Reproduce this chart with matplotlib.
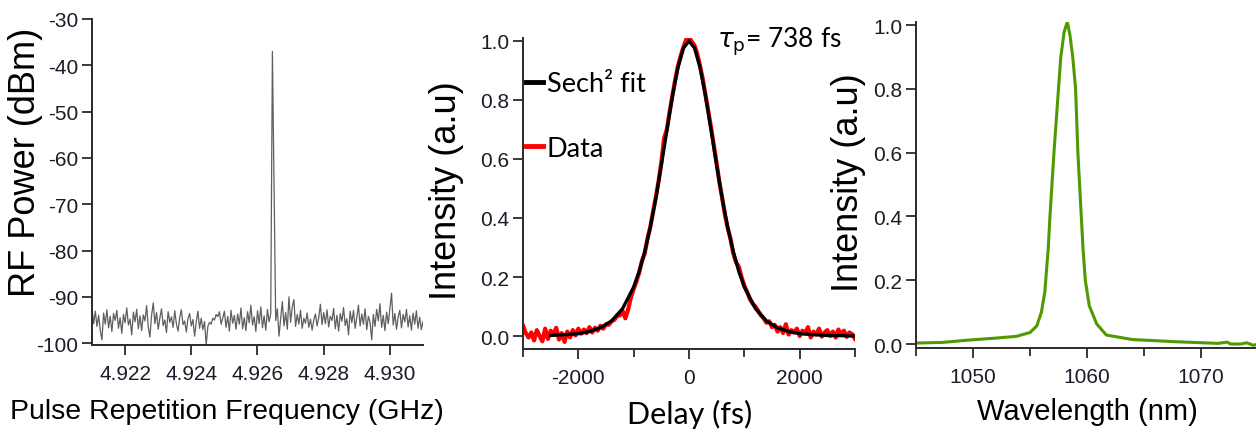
import numpy as np
import matplotlib
matplotlib.use("Agg")
import matplotlib.pyplot as plt

plt.rcParams["axes.unicode_minus"] = False

SANS = "Liberation Sans"
CAL = "Lato"

# ---- data: RF spectrum ----
rf_start, rf_stop = 4.9210, 4.9310
rf_power = [
    -92.5, -95.8, -93.1, -96.4, -94.0, -97.2, -99.3, -93.5, -95.9, -92.8,
    -96.7, -94.2, -97.5, -93.6, -95.1, -92.9, -96.8, -94.5, -97.9, -93.8,
    -95.6, -92.4, -96.1, -94.8, -98.2, -93.3, -95.4, -92.7, -96.9, -94.1,
    -97.3, -93.9, -95.2, -91.9, -96.5, -98.7, -94.0, -91.3, -95.8, -93.4,
    -97.0, -94.6, -92.6, -96.2, -95.0, -97.7, -93.2, -95.5, -94.3, -96.6,
    -93.0, -95.9, -97.4, -94.4, -92.8, -96.0, -95.2, -97.6, -94.7, -93.6,
    -96.3, -94.9, -98.5, -95.4, -93.1, -96.8, -94.6, -97.1, -95.3, -100.4,
    -96.4, -95.5, -95.9, -94.6, -95.0, -93.8, -94.3, -93.2, -95.9, -94.6,
    -93.1, -96.6, -94.2, -97.4, -92.9, -95.7, -94.0, -97.0, -93.7, -95.9,
    -92.4, -96.9, -94.5, -97.3, -93.2, -95.6, -91.8, -96.1, -94.3, -97.5,
    -93.0, -95.8, -92.2, -96.7, -94.1, -97.2, -92.7, -95.4, -93.6, -37.0,
    -66.0, -95.1, -92.6, -98.5, -94.7, -91.0, -96.3, -93.4, -97.0, -90.0,
    -95.5, -92.2, -90.6, -96.4, -93.8, -95.9, -92.9, -96.8, -94.6, -95.7,
    -93.5, -96.6, -94.8, -97.2, -95.0, -93.7, -96.3, -94.5, -91.6, -96.0,
    -93.4, -95.8, -92.8, -96.5, -94.2, -95.1, -92.5, -96.9, -94.0, -97.4,
    -93.6, -95.3, -92.3, -96.2, -94.7, -98.2, -93.1, -95.6, -92.9, -96.8,
    -94.4, -91.8, -96.3, -93.7, -95.9, -92.6, -97.1, -94.2, -95.5, -99.3,
    -93.8, -96.4, -92.7, -95.2, -91.5, -96.6, -94.0, -97.3, -93.3, -95.8,
    -92.4, -89.2, -96.1, -93.6, -97.0, -94.3, -92.9, -96.7, -93.8, -95.4,
    -92.7, -96.5, -94.1, -97.2, -93.5, -95.9, -93.0, -96.8, -94.4, -97.1, -95.3,
]
rf_freq = np.linspace(rf_start, rf_stop, len(rf_power))
rf_ticks = [4.922, 4.924, 4.926, 4.928, 4.930]

# ---- data: autocorrelation ----
delay_step = 50
ac_data = [
    0.035, 0.010, -0.005, 0.012, -0.015, 0.020, 0.000, -0.018, 0.025, -0.010,
    0.018, 0.005, 0.028, -0.012, 0.010, -0.020, 0.015, -0.005, 0.020, 0.002,
    0.025, 0.008, 0.022, 0.010, 0.030, 0.012, 0.028, 0.018, 0.035, 0.025,
    0.040, 0.038, 0.050, 0.055, 0.068, 0.070, 0.085, 0.060, 0.090, 0.130,
    0.160, 0.185, 0.215, 0.255, 0.280, 0.330, 0.370, 0.420, 0.470, 0.525,
    0.590, 0.670, 0.700, 0.760, 0.815, 0.868, 0.915, 0.950, 0.980, 1.005,
    1.012, 0.998, 0.985, 0.955, 0.915, 0.870, 0.815, 0.760, 0.705, 0.645,
    0.585, 0.520, 0.468, 0.410, 0.365, 0.330, 0.280, 0.250, 0.235, 0.200,
    0.170, 0.150, 0.125, 0.110, 0.100, 0.085, 0.070, 0.060, 0.045, 0.050,
    0.030, 0.038, 0.015, 0.030, 0.010, 0.040, 0.005, 0.020, 0.012, 0.025,
    0.000, 0.018, 0.010, 0.030, -0.005, 0.015, 0.005, 0.025, -0.002, 0.012,
    0.020, 0.000, 0.015, -0.005, 0.022, 0.005, 0.018, -0.003, 0.012, 0.006,
    -0.010,
]
ac_delay = np.arange(len(ac_data)) * delay_step - 3000

fit_delay = [-2500, -2200, -2000, -1800, -1600, -1400, -1200, -1000, -900, -800,
             -700, -600, -500, -400, -300, -200, -100, 0, 100, 200, 300, 400,
             500, 600, 700, 800, 900, 1000, 1200, 1400, 1600, 1800, 2000,
             2200, 2500, 2800, 3000]
fit_int = [0.002, 0.005, 0.008, 0.015, 0.028, 0.051, 0.093, 0.166, 0.219, 0.286,
           0.368, 0.466, 0.578, 0.697, 0.812, 0.910, 0.976, 1.000, 0.976, 0.910,
           0.812, 0.697, 0.578, 0.466, 0.368, 0.286, 0.219, 0.166, 0.093, 0.051,
           0.028, 0.015, 0.008, 0.005, 0.002, 0.001, 0.000]
pulse_width = 738

# ---- data: optical spectrum ----
wavelength = [1045.0, 1047.3, 1049.5, 1051.8, 1053.8, 1055.0, 1055.6, 1056.0,
              1056.3, 1056.6, 1056.75, 1057.1, 1057.5, 1057.7, 1058.0, 1058.27,
              1058.5, 1058.75, 1059.0, 1059.2, 1059.5, 1059.65, 1059.85, 1060.2,
              1060.85, 1061.7, 1064.0, 1067.9, 1071.5, 1072.3, 1072.6, 1073.5,
              1074.0, 1074.6, 1075.0]
spectrum = [0.003, 0.005, 0.012, 0.018, 0.024, 0.036, 0.057, 0.100,
            0.163, 0.300, 0.400, 0.600, 0.800, 0.900, 0.980, 1.010,
            0.970, 0.900, 0.800, 0.600, 0.400, 0.300, 0.200, 0.120,
            0.063, 0.028, 0.014, 0.007, 0.002, 0.006, 0.000, 0.000,
            0.004, -0.004, 0.000]

W, H = 1256, 435
fig = plt.figure(figsize=(W / 100, H / 100), dpi=100)
TICKC = "#1c1c28"
SPINE = "#2a2a2a"


def box(l, r, t, b):
    return [l / W, 1 - b / H, (r - l) / W, (b - t) / H]


def style(ax):
    for s in ["top", "right"]:
        ax.spines[s].set_visible(False)
    for s in ["left", "bottom"]:
        ax.spines[s].set_linewidth(1.4)
        ax.spines[s].set_color(SPINE)
    ax.tick_params(which="major", direction="out", length=7, width=1.3,
                   color=SPINE, labelsize=15, labelcolor=TICKC)
    ax.tick_params(which="minor", direction="out", length=6, width=1.3, color=SPINE)
    ax.tick_params(axis="x", which="major", pad=7)
    ax.tick_params(axis="y", which="major", pad=3)
    for lab in ax.get_xticklabels() + ax.get_yticklabels():
        lab.set_fontfamily(SANS)


# panel 1: RF spectrum
ax1 = fig.add_axes(box(92, 423, 20, 346))
ax1.plot(rf_freq, rf_power, color="#5f5f5f", lw=0.9)
ax1.set_xlim(rf_start, rf_stop)
ax1.set_ylim(-100.4, -30)
ax1.set_xticks(rf_ticks)
ax1.set_xticklabels([f"{v:.3f}" for v in rf_ticks])
ax1.set_yticks(np.arange(-100, -29, 10))
style(ax1)

# panel 2: autocorrelation
ax2 = fig.add_axes(box(523, 855, 39, 350))
ax2.plot(ac_delay, ac_data, color="#ff0000", lw=3.0, label="Data")
ax2.plot(fit_delay, fit_int, color="black", lw=2.4, label="Sech\u00b2 fit")
ax2.set_xlim(-3000, 3000)
ax2.set_ylim(-0.044, 1.01)
ax2.set_xticks([-2000, 0, 2000])
ax2.set_xticks([-3000, -1000, 1000, 3000], minor=True)
ax2.set_yticks([0, 0.2, 0.4, 0.6, 0.8, 1.0])
ax2.set_yticklabels([f"{v:.1f}" for v in [0, 0.2, 0.4, 0.6, 0.8, 1.0]])
style(ax2)
h, l = ax2.get_legend_handles_labels()
leg = ax2.legend(h[::-1], l[::-1], loc="upper left", bbox_to_anchor=(0.01, 0.893),
                 frameon=False, handlelength=0.6, handletextpad=0.15,
                 labelspacing=1.45, borderpad=0, borderaxespad=0,
                 prop={"family": CAL, "size": 19.5})
for line in leg.get_lines():
    line.set_linewidth(3.5)
ax2.text(0.585, 0.99, r"$\tau_\mathrm{p}$= " + f"{pulse_width} fs", transform=ax2.transAxes,
         ha="left", va="center", fontsize=19, family=CAL)

# panel 3: optical spectrum
ax3 = fig.add_axes(box(916, 1258, 23, 349))
ax3.plot(wavelength, spectrum, color="#4f9a00", lw=2.2)
ax3.set_xlim(1045, 1075)
ax3.set_ylim(-0.0125, 1.01)
ax3.set_xticks([1050, 1060, 1070])
ax3.set_xticks([1045, 1055, 1065, 1075], minor=True)
ax3.set_yticks([0, 0.2, 0.4, 0.6, 0.8, 1.0])
ax3.set_yticklabels([f"{v:.1f}" for v in [0, 0.2, 0.4, 0.6, 0.8, 1.0]])
style(ax3)

# axis titles
fig.text(26 / W, 1 - 162 / H, "RF Power (dBm)", rotation=90, ha="center", va="center",
         fontsize=26, family=SANS)
fig.text(447 / W, 1 - 191 / H, "Intensity (a.u)", rotation=90, ha="center", va="center",
         fontsize=26, family=SANS)
fig.text(849 / W, 1 - 183 / H, "Intensity (a.u)", rotation=90, ha="center", va="center",
         fontsize=26, family=SANS)
fig.text(227 / W, 1 - 412 / H, "Pulse Repetition Frequency (GHz)", ha="center", va="center",
         fontsize=20.5, family=SANS)
fig.text(690 / W, 1 - 414 / H, "Delay (fs)", ha="center", va="center",
         fontsize=22, family=CAL)
fig.text(1087 / W, 1 - 412 / H, "Wavelength (nm)", ha="center", va="center",
         fontsize=21, family=SANS)

fig.savefig("out.png", dpi=100)
